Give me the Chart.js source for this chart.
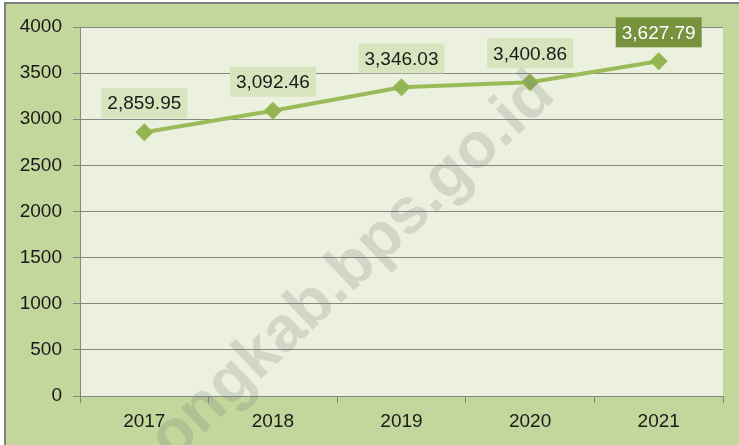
<!DOCTYPE html>
<html>
<head>
<meta charset="utf-8">
<script src="https://cdn.jsdelivr.net/npm/chart.js@4"></script>
<style>
  body { margin: 0; background: #fff; }
  #wrap { width: 739px; height: 445px; }
</style>
</head>
<body>
<div id="wrap"><canvas id="chart" width="739" height="445"></canvas></div>
<script>
// data
const years = ["2017", "2018", "2019", "2020", "2021"];
const values = [2859.95, 3092.46, 3346.03, 3400.86, 3627.79];
const yTicks = [0, 500, 1000, 1500, 2000, 2500, 3000, 3500, 4000];
const watermark = "ongkab.bps.go.id";

const FONT = "'Liberation Sans', Arial, sans-serif";
const fmt = v => v.toLocaleString("en-US", { minimumFractionDigits: 2, maximumFractionDigits: 2 });

// frame + background colours
const backdrop = {
  id: "backdrop",
  beforeDraw(chart) {
    const ctx = chart.ctx, a = chart.chartArea;
    ctx.save();
    ctx.fillStyle = "#ffffff";
    ctx.fillRect(0, 0, chart.width, chart.height);
    ctx.fillStyle = "#808080";
    ctx.fillRect(4, 2, chart.width, chart.height);
    ctx.fillStyle = "#c3d69b";
    ctx.fillRect(6, 4, chart.width, chart.height);
    ctx.fillStyle = "#ebf1de";
    ctx.fillRect(a.left, a.top, a.right - a.left, a.bottom - a.top);
    ctx.restore();
  }
};

// value boxes above the points
const valueBoxes = {
  id: "valueBoxes",
  afterDatasetsDraw(chart) {
    const ctx = chart.ctx;
    const pts = chart.getDatasetMeta(0).data;
    ctx.save();
    ctx.font = "19px " + FONT;
    ctx.textAlign = "center";
    ctx.textBaseline = "middle";
    pts.forEach((p, i) => {
      const txt = fmt(values[i]);
      const w = ctx.measureText(txt).width + 12;
      const h = 30;
      const cx = p.x, cy = p.y - 29;
      const last = i === pts.length - 1;
      ctx.fillStyle = last ? "#76923c" : "#d7e4bd";
      ctx.fillRect(cx - w / 2, cy - h / 2, w, h);
      ctx.fillStyle = last ? "#ffffff" : "#1a1a1a";
      ctx.fillText(txt, cx, cy + 1);
    });
    ctx.restore();
  }
};

// site watermark
const stamp = {
  id: "stamp",
  afterDraw(chart) {
    const ctx = chart.ctx;
    ctx.save();
    ctx.translate(365, 280);
    ctx.rotate(-43.5 * Math.PI / 180);
    ctx.font = "bold 64px " + FONT;
    ctx.textAlign = "center";
    ctx.textBaseline = "alphabetic";
    ctx.fillStyle = "rgba(120,120,120,0.22)";
    ctx.fillText(watermark, 0, 0);
    ctx.restore();
  }
};

new Chart(document.getElementById("chart"), {
  type: "line",
  data: {
    labels: years,
    datasets: [{
      data: values,
      borderColor: "#9bbb59",
      borderWidth: 4,
      backgroundColor: "#94b552",
      pointStyle: "rectRot",
      pointRadius: 9,
      pointBorderWidth: 0,
      pointHoverRadius: 9,
      tension: 0
    }]
  },
  options: {
    responsive: false,
    animation: false,
    devicePixelRatio: 1,
    layout: { padding: { left: 6, top: 27, right: 16, bottom: 0 } },
    plugins: { legend: { display: false }, tooltip: { enabled: false } },
    scales: {
      x: {
        offset: true,
        grid: { offset: true, drawOnChartArea: false, color: "#868686", tickLength: 7 },
        border: { display: false },
        ticks: { color: "#1a1a1a", font: { family: FONT, size: 19 }, padding: 7 },
        afterFit(s) { s.height = 49; }
      },
      y: {
        min: 0,
        max: 4000,
        afterBuildTicks(s) { s.ticks = yTicks.map(v => ({ value: v })); },
        grid: { color: "#868686", tickLength: 7 },
        border: { display: true, color: "#868686" },
        ticks: { color: "#1a1a1a", font: { family: FONT, size: 19 }, padding: 11, callback: v => String(v) },
        afterFit(s) { s.width = 74; }
      }
    }
  },
  plugins: [backdrop, valueBoxes, stamp]
});
</script>
</body>
</html>
